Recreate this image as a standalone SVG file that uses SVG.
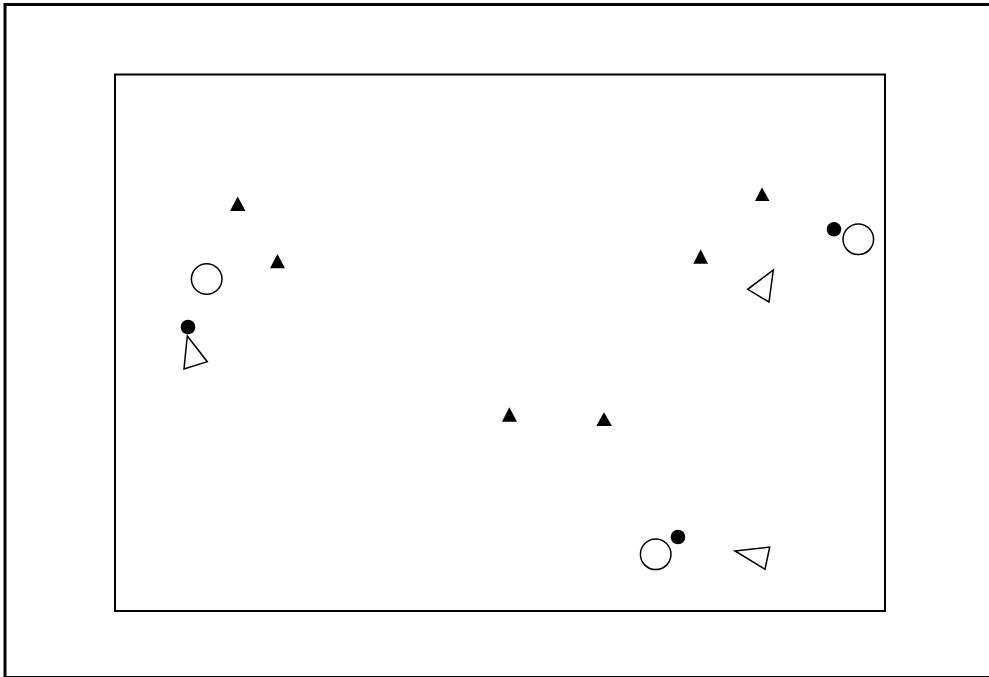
<svg xmlns="http://www.w3.org/2000/svg" width="989" height="677" viewBox="0 0 989 677">
<style>
.frame{fill:none;stroke:#000;stroke-width:3}
.inner{fill:none;stroke:#000;stroke-width:2}
.solid{fill:#000;stroke:none}
.open{fill:#fff;stroke:#000;stroke-width:1.5}
.dot{fill:#000;stroke:none}
</style>
<rect width="989" height="677" fill="#fff"/>
<g id="frame">
<rect class="frame" x="5" y="4.5" width="990" height="673"/>
<rect class="inner" x="115" y="74.5" width="770" height="536.5"/>
</g>
<g id="connectors"></g>
<g id="left-cluster">
<polygon class="solid" points="237.7,196.5 245.5,211 230,211"/>
<polygon class="solid" points="277.5,254 285,268.3 270,268.3"/>
<circle class="open" cx="206.7" cy="279" r="15.3"/>
<circle class="dot" cx="188" cy="327" r="7.3"/>
<polygon class="open" points="187.3,336 207.3,361.7 184,369"/>
</g>
<g id="right-cluster">
<polygon class="solid" points="762,187.3 769.5,201 755,201"/>
<polygon class="solid" points="700.7,249.3 708,263.7 693.3,263.7"/>
<circle class="dot" cx="834" cy="229.3" r="7.3"/>
<circle class="open" cx="858.3" cy="239.3" r="15.3"/>
<polygon class="open" points="773.3,270 747.7,289.3 769,302"/>
</g>
<g id="middle">
<polygon class="solid" points="509.3,407.3 517,421.7 502,421.7"/>
<polygon class="solid" points="604,412.3 612,426 596.3,426"/>
</g>
<g id="bottom-cluster">
<circle class="open" cx="655.7" cy="554.3" r="15.3"/>
<circle class="dot" cx="678" cy="537" r="7.3"/>
<polygon class="open" points="735,551 769.7,547 765,569.3"/>
</g>
</svg>
